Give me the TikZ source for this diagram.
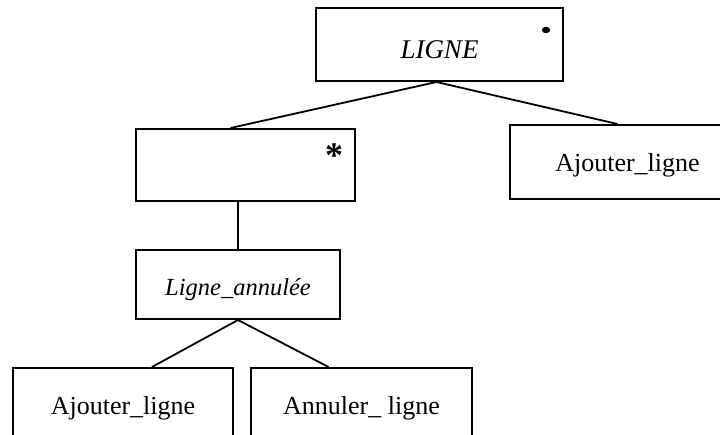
\documentclass[tikz,border=0pt]{standalone}
\usepackage{fontspec}
\setmainfont{Liberation Serif}
\begin{document}
\begin{tikzpicture}[x=1pt,y=-1pt,
  box/.style={draw=black,line width=2pt,inner sep=0pt,font=\fontsize{26}{30}\selectfont},
  link/.style={draw=black,line width=1.8pt}]
\useasboundingbox (0,0) rectangle (720,435);
\clip (0,0) rectangle (720,435);
% boxes
\node[box,minimum width=247pt,minimum height=73pt,text height=28pt,font=\fontsize{27}{30}\selectfont\itshape] (ligne) at (439.5,44.5) {LIGNE};
\node[box,minimum width=219pt,minimum height=72pt] (rep) at (245.5,165) {};
\node[box,minimum width=235pt,minimum height=74pt,text height=26pt,text depth=6pt] (ajoutA) at (627.5,162) {Ajouter\_ligne};
\node[box,minimum width=204pt,minimum height=69pt,text height=28pt,text depth=6pt,font=\fontsize{24.5}{28}\selectfont\itshape] (annulee) at (238,284.5) {Ligne\_annulée};
\node[box,minimum width=220pt,minimum height=80pt] (ajoutB) at (123,408) {Ajouter\_ligne};
\node[box,minimum width=221pt,minimum height=80pt] (annuler) at (361.5,408) {Annuler\_ ligne};
% marks in the corners
\node[font=\fontsize{36}{36}\selectfont\bfseries,inner sep=0pt] (star) at (334,156) {*};
\fill[black] (546,30) ellipse (4.2pt and 3.2pt);
% connectors
\draw[link] ([xshift=-3pt]ligne.south) -- ([xshift=-15pt]rep.north);
\draw[link] ([xshift=-3pt]ligne.south) -- ([xshift=-10pt]ajoutA.north);
\draw[link] ([xshift=-7.5pt]rep.south) -- (annulee.north);
\draw[link] (annulee.south) -- ([xshift=29pt]ajoutB.north);
\draw[link] (annulee.south) -- ([xshift=-33pt]annuler.north);
\end{tikzpicture}
\end{document}
